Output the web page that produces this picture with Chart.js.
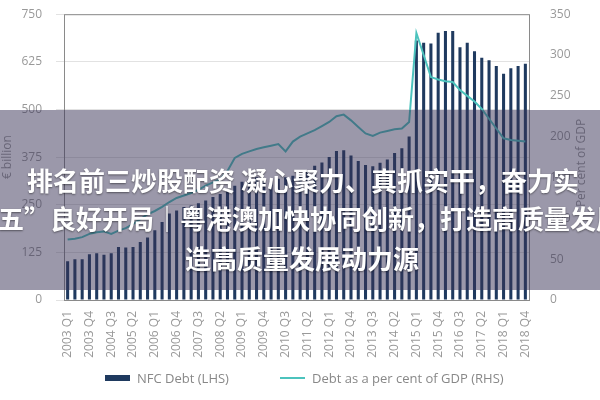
<!DOCTYPE html>
<html>
<head>
<meta charset="utf-8">
<script src="https://cdn.jsdelivr.net/npm/chart.js@4"></script>
<style>
    html, body { margin: 0; padding: 0; background: #fff; }
    #wrap { position: relative; width: 600px; height: 400px; overflow: hidden; }
    #chart { position: absolute; left: 0; top: -7px; }
    #banner {
        position: absolute; left: 0; top: 110px; width: 600px; height: 180px;
        background: rgba(55, 50, 85, 0.5);
    }
    .line {
        position: absolute; white-space: nowrap; color: #fff;
        font-family: "Noto Sans CJK SC", sans-serif; font-weight: bold;
        font-size: 26px; line-height: 26px;
        text-shadow: 0 1px 2px rgba(0, 0, 0, 0.45);
    }
    #legend {
        position: absolute; top: 370px; left: 0; width: 600px; height: 16px;
        font-family: "Open Sans", sans-serif; font-size: 13px; color: #888;
    }
    #legend span { position: absolute; top: 0; line-height: 16px; white-space: nowrap; }
    #legend i { position: absolute; display: block; width: 25px; }
</style>
</head>
<body>
<div id="wrap">
    <canvas id="chart" width="600" height="407"></canvas>
    <div id="legend">
        <i style="left:105px; top:5px; height:6px; background:#1f3a5f;"></i>
        <span style="left:137px;">NFC Debt (LHS)</span>
        <i style="left:280px; top:7px; height:2px; background:#4cc3bd;"></i>
        <span style="left:312px;">Debt as a per cent of GDP (RHS)</span>
    </div>
    <div id="banner"></div>
    <div class="line" style="left:27px; top:167px;">排名前三炒股配资 凝心聚力、真抓实干，奋力实</div>
    <div class="line" style="left:-2px; top:205px;">五”良好开局｜粤港澳加快协同创新，打造高质量发展</div>
    <div class="line" style="left:185px; top:245px;">造高质量发展动力源</div>
</div>
<script>
const years = [2003, 2004, 2005, 2006, 2007, 2008, 2009, 2010, 2011, 2012, 2013, 2014, 2015, 2016, 2017, 2018];
const quarters = [];
years.forEach(y => {
    for (let q = 1; q <= 4; q++) quarters.push(y + ' Q' + q);
});

// NFC debt, € billion (left axis)
const nfcDebt = [102, 107, 107, 120, 123, 119, 123, 139, 138, 139, 152, 164, 183, 205,
    227, 235, 244, 248, 254, 261, 270,
    278, 288, 300, 310, 318, 322, 318, 312, 318, 322, 326, 332, 340, 352,
    361, 375, 391, 393, 379, 365, 354, 351, 360, 369, 386, 398, 429,
    681, 675, 673, 701, 706, 706, 663, 675, 653, 636, 629, 614, 594, 608, 614, 620];

// debt as per cent of GDP (right axis)
const debtPctGdp = [74, 75, 77, 81, 83, 84, 81, 85, 88, 93, 99, 105, 109, 114, 120, 125,
    128, 131, 135, 140, 144, 148, 158, 174, 179, 182, 185, 187, 189, 191, 182, 194,
    200, 204, 208, 213, 218, 225, 227, 220, 212, 204, 201, 205, 207, 209, 210, 218,
    327, 300, 273, 270, 268, 267, 257, 250, 243, 234, 222, 210, 198, 196, 195, 194];

const leftTicks = [0, 125, 250, 375, 500, 625, 750];
const rightTicks = [0, 50, 100, 150, 200, 250, 300, 350];

const tickFont = { family: 'Open Sans', size: 12 };

// рамка вокруг области графика и подпись правой оси (читается снизу вверх)
const framePlugin = {
    id: 'frame',
    afterDraw(chart) {
        const { ctx, chartArea: a } = chart;
        ctx.save();
        ctx.strokeStyle = '#8a8a8a';
        ctx.lineWidth = 1;
        ctx.strokeRect(a.left + 0.5, a.top + 0.5, a.right - a.left, a.bottom - a.top);
        ctx.translate(582, 170);
        ctx.rotate(-Math.PI / 2);
        ctx.fillStyle = '#999';
        ctx.font = '12px "Open Sans"';
        ctx.textAlign = 'center';
        ctx.textBaseline = 'middle';
        ctx.fillText('Per cent of GDP', 0, 0);
        ctx.restore();
    }
};

new Chart(document.getElementById('chart'), {
    data: {
        labels: quarters,
        datasets: [{
            type: 'bar',
            label: 'NFC Debt (LHS)',
            data: nfcDebt,
            backgroundColor: '#1f3a5f',
            barPercentage: 0.42,
            categoryPercentage: 1,
            yAxisID: 'y',
            order: 1
        }, {
            type: 'line',
            label: 'Debt as a per cent of GDP (RHS)',
            data: debtPctGdp,
            borderColor: '#4cc3bd',
            backgroundColor: '#4cc3bd',
            borderWidth: 2,
            pointRadius: 0,
            tension: 0,
            yAxisID: 'y1',
            order: 0
        }]
    },
    options: {
        responsive: false,
        animation: false,
        layout: { padding: { top: 0, bottom: 0 } },
        plugins: {
            legend: { display: false },
            tooltip: { enabled: false }
        },
        scales: {
            x: {
                grid: { display: false },
                border: { color: '#555' },
                ticks: {
                    color: '#999',
                    font: tickFont,
                    autoSkip: false,
                    minRotation: 90,
                    maxRotation: 90,
                    callback: (v, i) => (i % 3 === 0 ? quarters[i] : '')
                },
                afterFit: s => { s.height = 100; }
            },
            y: {
                position: 'left',
                min: 0,
                max: 750,
                afterBuildTicks: s => { s.ticks = leftTicks.map(v => ({ value: v })); },
                grid: { color: '#e2e2e2' },
                border: { display: false },
                ticks: { color: '#999', font: tickFont, padding: 14 },
                title: { display: true, text: '€ billion', color: '#999', font: tickFont, padding: { top: 0, bottom: 6 } },
                afterFit: s => { s.width = 64; }
            },
            y1: {
                position: 'right',
                min: 0,
                max: 350,
                afterBuildTicks: s => { s.ticks = rightTicks.map(v => ({ value: v })); },
                grid: { display: false },
                border: { display: false },
                ticks: { color: '#999', font: tickFont, padding: 13 },
                afterFit: s => { s.width = 71; }
            }
        }
    },
    plugins: [framePlugin]
});
</script>
</body>
</html>
